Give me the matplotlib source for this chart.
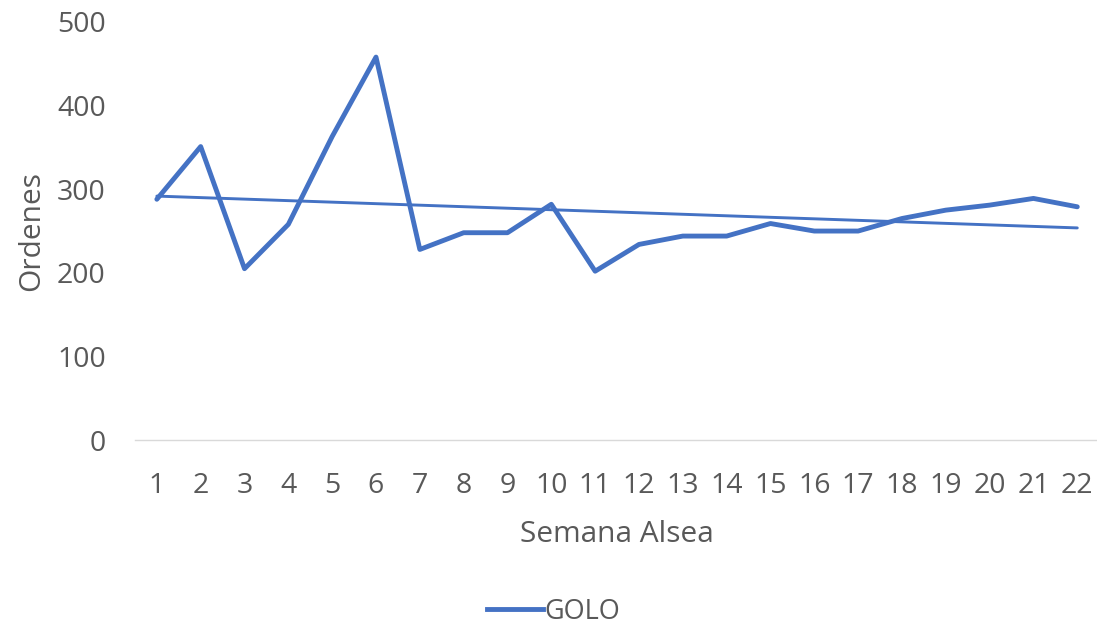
import numpy as np
import matplotlib
matplotlib.use("Agg")
import matplotlib.pyplot as plt
from matplotlib.lines import Line2D

plt.rcParams['font.family'] = ['Open Sans', 'DejaVu Sans']

semanas = list(range(1, 23))
golo = [288, 351, 205, 258, 363, 458, 228, 248, 248, 282, 202,
        234, 244, 244, 259, 250, 250, 265, 275, 281, 289, 279]

color = '#4472C4'
grey = '#595959'

fig = plt.figure(figsize=(10.97, 6.27), dpi=100)
ax = fig.add_axes([0.123, 0.298, 0.879, 0.667])

x = np.array(semanas)
y = np.array(golo)
ax.plot(x, y, color=color, lw=3.5, solid_joinstyle='round', solid_capstyle='round')

# linear trend line
m, b = np.polyfit(x, y, 1)
ax.plot(x, m * x + b, color=color, lw=2.1, solid_capstyle='round')

ax.set_xlim(0.5, 22.5)
ax.set_ylim(0, 500)
ax.set_yticks(range(0, 501, 100))
ax.set_xticks(semanas)
ax.tick_params(axis='both', length=0, labelsize=20.5, colors=grey)
ax.tick_params(axis='x', pad=23)
ax.tick_params(axis='y', pad=21)
for s in ['top', 'right', 'left']:
    ax.spines[s].set_visible(False)
ax.spines['bottom'].set_color('#d9d9d9')
ax.spines['bottom'].set_linewidth(1.0)

ax.set_xlabel('Semana Alsea', fontsize=21.5, color=grey, labelpad=14)
ax.set_ylabel('Ordenes', fontsize=21.5, color=grey, labelpad=8)

handle = Line2D([], [], color=color, lw=3.5)
fig.legend([handle], ['GOLO'], loc='center', bbox_to_anchor=(0.5046, 0.024),
           frameon=False, fontsize=19.5, labelcolor=grey, handlelength=2.1,
           handletextpad=0.05)

fig.savefig('out.png', dpi=100)
